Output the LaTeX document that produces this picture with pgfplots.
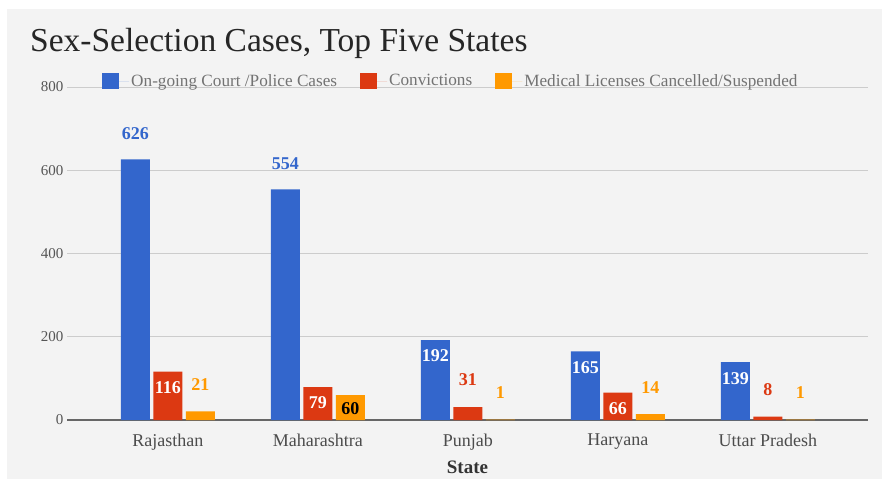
\documentclass[border=0pt]{standalone}
\usepackage{fontspec}
\setmainfont{Liberation Serif}
\usepackage{pgfplots}
\pgfplotsset{compat=1.18}
\definecolor{cBlue}{HTML}{3366CC}
\definecolor{cRed}{HTML}{DC3912}
\definecolor{cOrange}{HTML}{FF9900}
\definecolor{bgc}{HTML}{F3F3F3}
\definecolor{gridc}{HTML}{CCCCCC}
\definecolor{tickc}{HTML}{555555}
\begin{document}
\begin{tikzpicture}[x=1pt,y=1pt]
\fill[white] (0,0) rectangle (882,479);
\fill[bgc] (7,0) rectangle (882,470);
\path[use as bounding box] (0,0) rectangle (882,479);
\node[anchor=base west, font=\fontsize{33.5}{38}\selectfont, text=black!85, inner sep=0] at (30,427) {Sex-Selection Cases, Top Five States};
\begin{axis}[
  at={(67pt,59pt)}, anchor=south west,
  scale only axis, width=801pt, height=333pt,
  ybar, bar width=29pt,
  xmin=-0.673, xmax=4.667, ymin=0, ymax=800,
  xtick={0,...,4}, xticklabels={Rajasthan,Maharashtra,Punjab,Haryana,Uttar Pradesh},
  ytick={200,400,600,800}, extra y ticks={0},
  extra y tick style={grid=major, major grid style={draw=black!60, line width=1.3pt}},
  ymajorgrids, major grid style={draw=gridc, line width=1pt},
  axis line style={draw=none}, major tick length=0pt,
  /pgf/number format/assume math mode=true,
  yticklabel style={font=\fontsize{15}{18}\selectfont, text=tickc},
  xticklabel style={font=\fontsize{18}{21}\selectfont, text=black!70, yshift=-10pt},
  xlabel={State},
  xlabel style={font=\bfseries\fontsize{19}{22}\selectfont, text=black!80, yshift=-4pt},
  legend style={at={(0.040,1)}, anchor=west, yshift=6pt, draw=none, fill=none,
    font=\fontsize{17.2}{20}\selectfont, text=black!55,
    /tikz/every even column/.append style={column sep=21pt}},
  legend columns=3,
  legend image code/.code={\fill[#1] (0pt,-8pt) rectangle (17pt,8pt); \path (0pt,0pt) -- (27pt,0pt);},
]
\addplot[fill=cBlue, draw=none, bar shift=-32.5pt] coordinates {(0,626) (1,554) (2,192) (3,165) (4,139)};
\addplot[fill=cRed, draw=none, bar shift=0pt] coordinates {(0,116) (1,79) (2,31) (3,66) (4,8)};
\addplot[fill=cOrange, draw=none, bar shift=32.5pt] coordinates {(0,21) (1,60) (2,1) (3,14) (4,1)};
\legend{On-going Court /Police Cases, Convictions, Medical Licenses Cancelled/Suspended}
% labels
\addplot[forget plot, draw=none, fill=none, bar shift=-32.5pt, nodes near coords,
  nodes near coords style={anchor=center, yshift=26pt, text=cBlue, font=\bfseries\fontsize{18}{20}\selectfont}]
  coordinates {(0,626) (1,554)};
\addplot[forget plot, draw=none, fill=none, bar shift=-32.5pt, nodes near coords,
  nodes near coords style={anchor=center, yshift=-16pt, text=white, font=\bfseries\fontsize{18}{20}\selectfont}]
  coordinates {(2,192) (3,165) (4,139)};
\addplot[forget plot, draw=none, fill=none, bar shift=0pt, nodes near coords,
  nodes near coords style={anchor=center, yshift=-16pt, text=white, font=\bfseries\fontsize{18}{20}\selectfont}]
  coordinates {(0,116) (1,79) (3,66)};
\addplot[forget plot, draw=none, fill=none, bar shift=0pt, nodes near coords,
  nodes near coords style={anchor=center, yshift=27pt, text=cRed, font=\bfseries\fontsize{18}{20}\selectfont}]
  coordinates {(2,31) (4,8)};
\addplot[forget plot, draw=none, fill=none, bar shift=32.5pt, nodes near coords,
  nodes near coords style={anchor=center, yshift=27pt, text=cOrange, font=\bfseries\fontsize{18}{20}\selectfont}]
  coordinates {(0,21) (2,1) (3,14) (4,1)};
\addplot[forget plot, draw=none, fill=none, bar shift=32.5pt, nodes near coords,
  nodes near coords style={anchor=center, yshift=-14pt, text=black, font=\bfseries\fontsize{18}{20}\selectfont}]
  coordinates {(1,60)};
\end{axis}
\end{tikzpicture}
\end{document}
